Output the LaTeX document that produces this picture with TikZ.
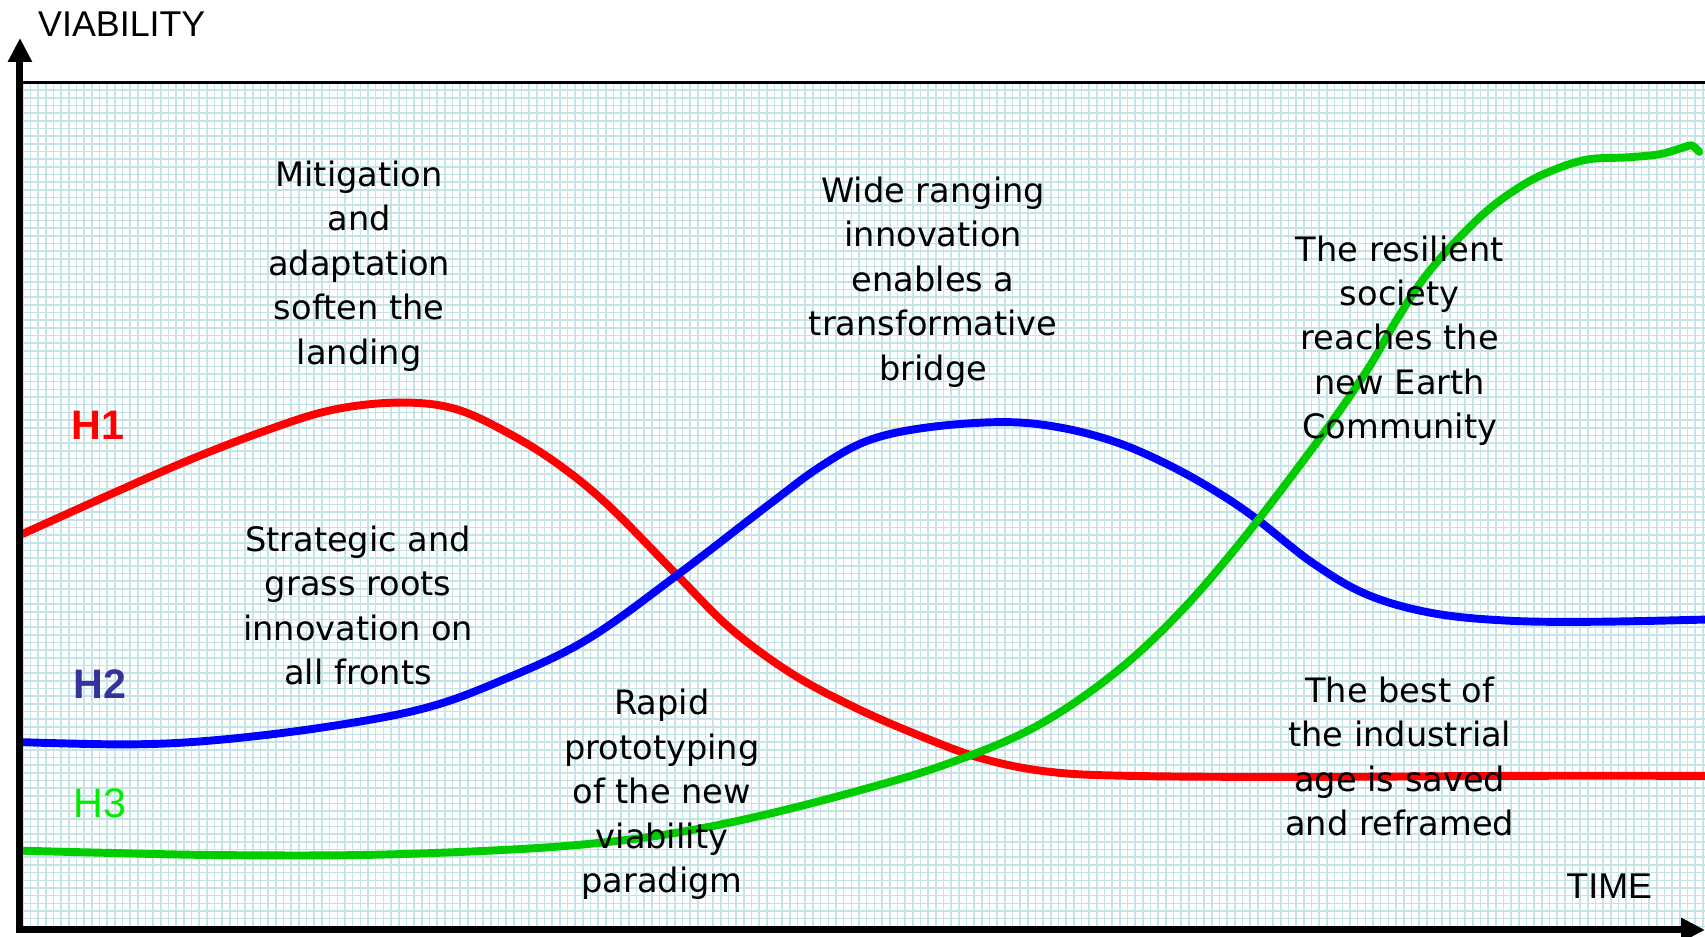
\documentclass[tikz,border=0pt]{standalone}
\usepackage{fontspec}
\setmainfont{DejaVu Sans}
\newfontfamily\arialf{Liberation Sans}
\usetikzlibrary{arrows.meta}
\definecolor{gridc}{RGB}{196,228,232}
\definecolor{hred}{RGB}{255,0,0}
\definecolor{hblue}{RGB}{0,0,255}
\definecolor{hgreen}{RGB}{0,204,0}
\definecolor{htwo}{RGB}{51,51,153}
\definecolor{hthree}{RGB}{0,238,0}
\tikzset{
  note/.style={align=center, inner sep=0pt, font=\fontsize{31}{41}\selectfont},
  axlabel/.style={inner sep=0pt, font=\arialf\fontsize{33}{38}\selectfont},
  hlabel/.style={inner sep=0pt, font=\arialf\fontsize{38}{42}\selectfont},
  curve/.style={line width=7.3pt, line cap=round, line join=round, smooth, tension=0.6},
}
\begin{document}
\begin{tikzpicture}[x=1pt,y=-1pt]
\useasboundingbox (0,0) rectangle (1571.3,863.5);
% grid
\begin{scope}
\clip (21,76) rectangle (1571.3,855);
\foreach \i in {0,...,222} {\draw[gridc, line width=1.5pt] ({21+7.07*\i},76) -- ({21+7.07*\i},860);}
\foreach \j in {0,...,112} {\draw[gridc, line width=1.5pt] (18,{76+7.07*\j}) -- (1572,{76+7.07*\j});}
\end{scope}
% top border
\draw[line width=2pt] (18,76) -- (1571.3,76);
% curves
\draw[curve, hred] plot coordinates {(21,492) (160,430) (250,395) (310,377) (370,371) (420,377) (470,400) (516,429) (562,467) (624,530) (673,579) (730,621) (790,653) (850,679) (905,699) (965,711) (1040,715) (1200,716) (1400,715) (1571,715)};
\draw[curve, hblue] plot coordinates {(21,684) (120,686) (200,682) (300,670) (390,653) (460,628) (540,590) (624,530) (710,464) (756,430) (800,406) (854,394) (924,389) (977,394) (1030,408) (1080,430) (1124,455) (1159,479) (1210,519) (1260,548) (1320,565) (1390,572) (1471,573) (1571,571)};
\draw[curve, hgreen] plot coordinates {(21,784) (100,786) (200,788) (330,788) (450,784) (540,778) (620,768) (700,752) (790,729) (870,705) (950,672) (1020,626) (1081,571) (1143,500) (1217,403) (1260,341) (1287,295) (1318,249) (1364,200) (1401,172) (1431,157) (1463,147) (1500,145) (1530,142) (1551,136) (1559,134) (1566,140)};
% axes
\coordinate (ytip) at (18.4,35);
\coordinate (corner) at (18.4,857);
\coordinate (xtip) at (1571.3,857);
\draw[line width=6.5pt, {Triangle[length=22pt,width=21pt]}-{Triangle[length=22pt,width=21pt]}] (ytip) -- (corner) -- (xtip);
% labels
\node[axlabel, anchor=west] (viab) at (35,22) {VIABILITY};
\node[axlabel] (time) at (1483,817) {TIME};
\node[hlabel, text=hred] (h1) at (90,392) {\bfseries H1};
\node[hlabel, text=htwo] (h2) at (92,630) {\bfseries H2};
\node[hlabel, text=hthree] (h3) at (92,740) {H3};
% notes
\node[note] (n1) at (331,245) {Mitigation\\and\\adaptation\\soften the\\landing};
\node[note] (n2) at (860,260) {Wide ranging\\innovation\\enables a\\transformative\\bridge};
\node[note] (n3) at (1290,314) {The resilient\\society\\reaches the\\new Earth\\Community};
\node[note] (n4) at (330,558) {Strategic and\\grass roots\\innovation on\\all fronts};
\node[note] (n5) at (610,732) {Rapid\\prototyping\\of the new\\viability\\paradigm};
\node[note] (n6) at (1290,697) {The best of\\the industrial\\age is saved\\and reframed};
\end{tikzpicture}
\end{document}
